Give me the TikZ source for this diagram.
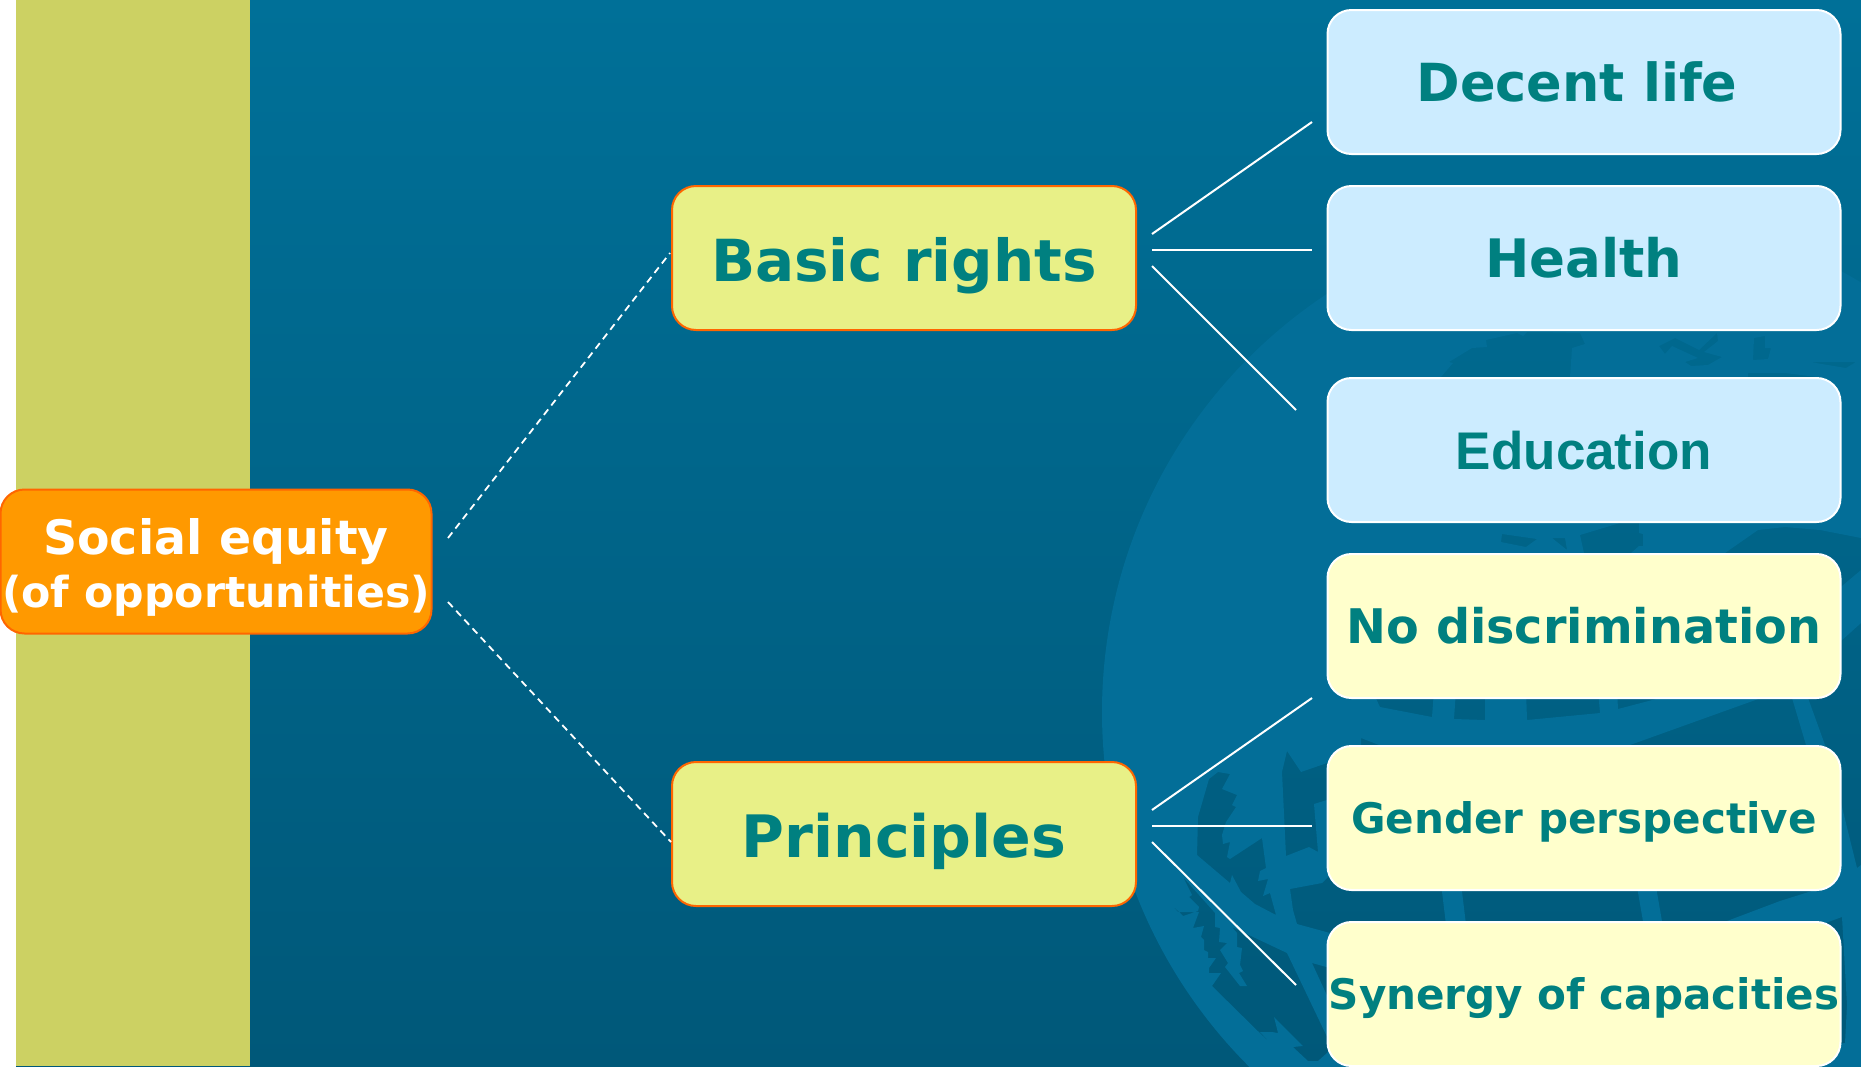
\documentclass[tikz,border=0pt]{standalone}
\usepackage{fontspec}
\usepackage{xcolor}
\usepackage{tikz}
\usetikzlibrary{positioning}
\setmainfont{DejaVu Sans}
\newfontfamily\arialfont{Liberation Sans}
\definecolor{bgtop}{RGB}{0,112,152}
\definecolor{bgbottom}{RGB}{0,88,121}
\definecolor{emblem}{RGB}{3,110,152}
\definecolor{stripe}{RGB}{204,209,99}
\definecolor{tealtext}{RGB}{0,128,128}
\definecolor{edgeorange}{RGB}{255,102,0}
\definecolor{lime}{RGB}{232,240,135}
\definecolor{skybox}{RGB}{204,236,255}
\definecolor{creambox}{RGB}{255,255,204}
\definecolor{rootfill}{RGB}{255,153,0}
% baseline #1 pt under the middle of the node, font size #2
\newcommand{\lowered}[3]{\raisebox{-#1pt}[0pt][0pt]{\fontsize{#2}{#2}\selectfont #3}}
\tikzset{
	item/.style={rounded corners=24pt,minimum width=513pt,minimum height=144pt,inner sep=0pt,line width=2pt,draw=white,text=tealtext,font=\bfseries},
	rights/.style={item,fill=skybox},
	rule/.style={item,fill=creambox},
	topic/.style={rounded corners=24pt,minimum width=464pt,minimum height=144pt,inner sep=0pt,line width=2pt,draw=edgeorange,fill=lime,text=tealtext,font=\bfseries},
	link/.style={draw=white,line width=2pt},
	dashlink/.style={link,line width=1.8pt,dash pattern=on 7pt off 5pt}
}
\begin{document}
\begin{tikzpicture}[x=1pt,y=-1pt]
	\useasboundingbox (0,0) rectangle (1861,1066);
	\begin{scope}
	\clip (0,0) rectangle (1861,1066);
	\shade[top color=bgtop,bottom color=bgbottom] (16,0) rectangle (1861,1066);
	% emblem, the holes show the background
	\fill[emblem,even odd rule] (1603,712) circle (501)
		(1209,779) -- (1218,772) -- (1230,774) -- (1222,789) -- (1237,795) -- (1232,805) -- (1236,807) -- (1226,822) -- (1222,835) -- (1223,844) -- (1230,842) -- (1227,857) -- (1230,859) -- (1262,838) -- (1266,868) -- (1260,871) -- (1258,881) -- (1268,879) -- (1263,896) -- (1270,893) -- (1276,915) -- (1255,904) -- (1241,892) -- (1232,875) -- (1230,883) -- (1197,855) -- (1198,817) -- cycle
		(1287,751) -- (1301,772) -- (1330,762) -- (1330,799) -- (1314,804) -- (1318,852) -- (1309,847) -- (1286,856) -- (1282,772) -- cycle
		(1290,889) -- (1322,883) -- (1330,875) -- (1440,875) -- (1447,933) -- (1330,933) -- (1297,924) -- (1293,910) -- cycle
		(1460,875) -- (1467,933) -- (1645,933) -- (1635,875) -- cycle
		(1654,875) -- (1664,933) -- (1700,933) -- (1727,921) -- (1780,901) -- (1815,890) -- (1830,875) -- cycle
		(1183,877) -- (1192,895) -- (1189,897) -- (1199,907) -- (1198,911) -- (1183,916) -- (1171,904) -- (1178,912) -- (1199,912) -- (1193,928) -- (1204,926) -- (1201,937) -- (1204,940) -- (1204,950) -- (1208,952) -- (1208,958) -- (1216,958) -- (1209,968) -- (1209,973) -- (1221,973) -- (1212,986) -- (1273,1046) -- (1260,1032) -- (1272,1032) -- (1278,1033) -- (1274,1017) -- (1303,1046) -- (1293,1047) -- (1308,1061) -- (1318,1061) -- (1328,1052) -- (1330,1043) -- (1287,953) -- (1232,927) -- (1237,933) -- (1237,947) -- (1242,948) -- (1240,965) -- (1243,971) -- (1239,973) -- (1247,986) -- (1240,986) -- (1225,967) -- (1228,963) -- (1220,950) -- (1227,943) -- (1219,942) -- (1220,928) -- (1215,927) -- (1215,913) -- cycle
		(1312,963) -- (1330,968) -- (1330,1002) -- cycle
		(1372,690) -- (1380,707) -- (1432,717) -- (1434,690) -- cycle
		(1456,690) -- (1454,719) -- (1485,720) -- (1485,690) -- cycle
		(1526,690) -- (1527,720) -- (1600,713) -- (1598,690) -- cycle
		(1617,690) -- (1618,709) -- (1660,698) -- (1670,690) -- cycle
		(1361,738) -- (1379,745) -- (1379,750) -- (1361,750) -- cycle
		(1630,745) -- (1761,698) -- (1775,690) -- (1789,690) -- (1792,698) -- (1806,745) -- (1830,850) -- (1630,850) -- cycle
		(1725,553) -- (1758,530) -- (1785,527) -- (1820,530) -- (1861,538) -- (1861,570) -- (1836,591) -- (1725,591) -- cycle
		(1806,690) -- (1808,698) -- (1825,745) -- (1841,803) -- (1857,868) -- (1861,865) -- (1861,623) -- (1841,641) -- (1800,650) -- cycle
		(1820,925) -- (1842,917) -- (1847,1005) -- (1845,1043) -- (1830,1045) -- cycle
		(1502,534) -- (1537,539) -- (1526,547) -- (1501,542) -- cycle
		(1552,538) -- (1565,538) -- (1567,550) -- cycle
		(1580,535) -- (1620,523) -- (1639,523) -- (1639,533) -- (1643,534) -- (1643,546) -- (1639,546) -- (1631,553) -- (1584,553) -- cycle
		(1441,377) -- (1453,363) -- (1449,362) -- (1472,348) -- (1487,347) -- (1486,340) -- (1517,333) -- (1523,336) -- (1527,332) -- (1580,333) -- (1585,344) -- (1572,348) -- (1570,377) -- cycle
		(1659,346) -- (1675,338) -- (1699,350) -- (1717,333) -- (1718,341) -- (1704,352) -- (1722,357) -- (1708,365) -- (1691,366) -- (1685,362) -- (1698,358) -- (1672,346) -- (1665,354) -- cycle
		(1754,338) -- (1765,336) -- (1765,348) -- (1771,348) -- (1768,359) -- (1753,360) -- cycle
		(1810,362) -- (1856,362) -- (1846,368) -- cycle
		(1748,373) -- (1785,373) -- (1817,377) -- (1748,380) -- cycle;
	\end{scope}
	\fill[stripe] (16,0) rectangle (250,1066);
	% boxes
	\node[topic,minimum width=431pt,fill=rootfill,text=white] (social) at (216,561.5)
		{\makebox[0pt]{\lowered{-7}{47.4}{Social equity}}\makebox[0pt]{\lowered{45.5}{42.7}{(of opportunities)}}};
	\node[topic] (basic) at (904,258) {\lowered{23.5}{58}{Basic rights}};
	\node[topic] (principles) at (904,834) {\lowered{23}{58.5}{Principles}};
	\node[rights] (decent) at (1584,82) {\hspace*{-14pt}\lowered{19.5}{52.5}{Decent life}};
	\node[rights] (health) at (1584,258) {\lowered{19.5}{53}{Health}};
	\node[rights] (education) at (1584,450) {\arialfont\lowered{19}{53}{Education}};
	\node[rule] (nodisc) at (1584,626) {\lowered{17}{47.7}{No discrimination}};
	\node[rule] (gender) at (1584,818) {\lowered{15.5}{42.1}{Gender perspective}};
	\node[rule] (synergy) at (1584,994) {\lowered{15.5}{42.1}{Synergy of capacities}};
	% free ends
	\coordinate (socialup) at (448,538);
	\coordinate (sociallow) at (448,602);
	\coordinate (basicin) at (670,253);
	\coordinate (princin) at (671,842);
	\coordinate (basicup) at (1152,234);
	\coordinate (basicmid) at (1152,250);
	\coordinate (basiclow) at (1152,266);
	\coordinate (princup) at (1152,810);
	\coordinate (princmid) at (1152,825.5);
	\coordinate (princlow) at (1152,842);
	\coordinate (decentend) at (1312,122);
	\coordinate (healthend) at (1312,250);
	\coordinate (eduend) at (1296,410);
	\coordinate (nodiscend) at (1312,698);
	\coordinate (genderend) at (1312,825.5);
	\coordinate (synergyend) at (1296,985);
	\draw[dashlink] (socialup) -- (basicin);
	\draw[dashlink] (sociallow) -- (princin);
	\draw[link] (basicup) -- (decentend);
	\draw[link] (basicmid) -- (healthend);
	\draw[link] (basiclow) -- (eduend);
	\draw[link] (princup) -- (nodiscend);
	\draw[link] (princmid) -- (genderend);
	\draw[link] (princlow) -- (synergyend);
\end{tikzpicture}
\end{document}
